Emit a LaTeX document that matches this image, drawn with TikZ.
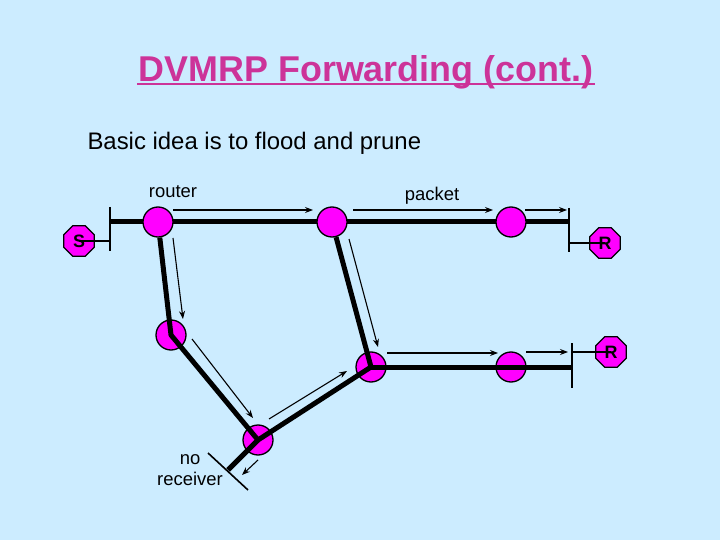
\documentclass[tikz,border=0pt]{standalone}
\usepackage{fontspec}
\setmainfont{Liberation Sans}
\usepackage{tikz}
\usetikzlibrary{shapes.geometric,arrows.meta}
\definecolor{slidebg}{HTML}{CCECFF}
\definecolor{routerpink}{HTML}{FF00FF}
\definecolor{titlepink}{HTML}{CC3399}
\tikzset{
  router/.style={circle,draw=black,line width=1.3bp,fill=routerpink,minimum size=30bp,inner sep=0pt},
  host/.style={regular polygon,regular polygon sides=8,draw=black,line width=1.3bp,fill=routerpink,
    minimum size=33bp,inner sep=0pt,font=\bfseries\fontsize{18}{18}\selectfont},
  link/.style={line width=5bp,line join=round},
  lan/.style={line width=1.6bp},
  flow/.style={line width=1.1bp,-{Stealth[length=8bp,width=6bp]}},
  lbl/.style={font=\fontsize{18.5}{21}\selectfont,align=center}
}

\begin{document}
\begin{tikzpicture}[x=1bp,y=-1bp]
    \fill[slidebg] (0,0) rectangle (720,540);
    \useasboundingbox (0,0) rectangle (720,540);
    \node[titlepink,font=\bfseries\fontsize{36}{40}\selectfont] (title) at (366,72) {DVMRP Forwarding (cont.)};
    \draw[titlepink,line width=2.5bp] ([xshift=2bp,yshift=-3bp]title.base west) -- ([xshift=-2bp,yshift=-3bp]title.base east);
    \node[anchor=west,font=\fontsize{24}{28}\selectfont] (idea) at (84,143) {Basic idea is to flood and prune};
    % LAN ends
    \coordinate (lanS) at (110,222);
    \coordinate (lanSh) at (110,241);
    \coordinate (lanR) at (569,222);
    \coordinate (lanRh) at (569,243);
    \coordinate (lanB) at (572,367);
    \coordinate (lanBh) at (572,352);
    \coordinate (lanN) at (228,470);
    \draw[link] (lanS) -- (lanR);
    % routers
    \node[router] (A) at (158,222) {};
    \node[router] (B) at (332,222) {};
    \node[router] (C) at (511,222) {};
    \node[router] (D) at (171,335) {};
    \node[router] (E) at (371,367) {};
    \node[router] (F) at (511,367) {};
    \node[router] (G) at (258,440) {};
    \node[host] (S) at (79,241) {S};
    \node[host] (R1) at (605,243) {R};
    \node[host] (R2) at (611,352) {R};
    \draw[link] (A) -- (D.center) -- (G.center) -- (E.center) -- (B);
    \draw[link] (E.center) -- (lanB);
    \draw[link] (G.center) -- (lanN);
    \draw[lan] (110,207) -- (110,251);
    \draw[lan] (569,208) -- (569,252);
    \draw[lan] (572,343) -- (572,388);
    \draw[lan] (208,453) -- (248,490);
    \draw[lan] (S.center) -- (lanSh);
    \draw[lan] (lanRh) -- (R1.center);
    \draw[lan] (lanBh) -- (R2.center);
    % packet flow
    \coordinate (p1) at (173,210); \coordinate (q1) at (313,210);
    \coordinate (p2) at (353,210); \coordinate (q2) at (493,210);
    \coordinate (p3) at (525,210); \coordinate (q3) at (567,210);
    \coordinate (p4) at (173,238); \coordinate (q4) at (183,319);
    \coordinate (p5) at (349,239); \coordinate (q5) at (378,347);
    \coordinate (p6) at (192,339); \coordinate (q6) at (253,418);
    \coordinate (p7) at (269,419); \coordinate (q7) at (347,371);
    \coordinate (p8) at (387,353); \coordinate (q8) at (498,353);
    \coordinate (p9) at (526,352); \coordinate (q9) at (568,352);
    \coordinate (p10) at (258,460); \coordinate (q10) at (242,475);
    \foreach \i in {1,...,10} \draw[flow] (p\i) -- (q\i);
    \node[lbl] (rlabel) at (173,192) {router};
    \node[lbl] (plabel) at (432,196) {packet};
    \node[lbl] (nlabel) at (190,470) {no\\receiver};
\end{tikzpicture}
\end{document}
